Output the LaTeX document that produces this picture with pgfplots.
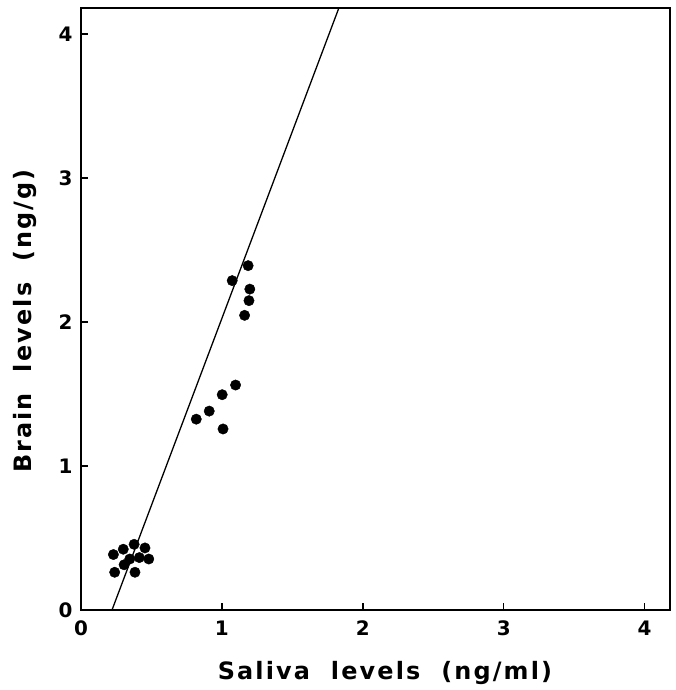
\documentclass[border=0pt]{standalone}
\usepackage{fontspec}
\setmainfont{DejaVu Sans}
\usepackage{pgfplots}
\pgfplotsset{compat=1.18}
\begin{document}
\begin{tikzpicture}
\useasboundingbox (-81bp,-80bp) rectangle (595bp,610bp);
\begin{axis}[
 at={(0,0)}, anchor=south west,
 scale only axis, width=589bp, height=602bp,
 xmin=0, xmax=4.18, ymin=0, ymax=4.18,
 axis line style={line width=1.6pt},
 xtick={0,1,2,3,4}, ytick={0,1,2,3,4},
 tick align=inside, xtick pos=bottom, ytick pos=left,
 major tick length=7bp,
 tick style={line width=1.4pt, black},
 /pgf/number format/assume math mode=true,
 ticklabel style={font=\fontsize{20}{22}\selectfont\bfseries},
 xticklabel style={yshift=-7bp},
 yticklabel style={xshift=-5bp},
 xlabel={Saliva\ \ levels\ \ (ng/ml)},
 ylabel={Brain\ \ levels\ \ (ng/g)},
 label style={font=\fontsize{24}{26}\selectfont\bfseries\addfontfeatures{LetterSpace=9}},
 xlabel style={at={(axis description cs:0.516,-0.1047)}, anchor=center},
 ylabel style={at={(axis description cs:-0.095,0.48)}, anchor=center},
 clip=false,
]
\addplot[only marks, mark=*, mark size=5.2bp, black] coordinates {
 (0.230,0.385) (0.300,0.422) (0.377,0.456) (0.454,0.431) (0.239,0.262)
 (0.306,0.314) (0.346,0.354) (0.414,0.364) (0.481,0.354) (0.383,0.262)
 (0.818,1.325) (0.910,1.381) (1.002,1.495) (1.097,1.562) (1.008,1.257)
 (1.073,2.287) (1.186,2.391) (1.198,2.228) (1.192,2.148) (1.161,2.046)
};
\addplot[no marks, line width=1.3pt, black] coordinates {(0.22,0) (1.83,4.18)};
\end{axis}
\end{tikzpicture}
\end{document}
